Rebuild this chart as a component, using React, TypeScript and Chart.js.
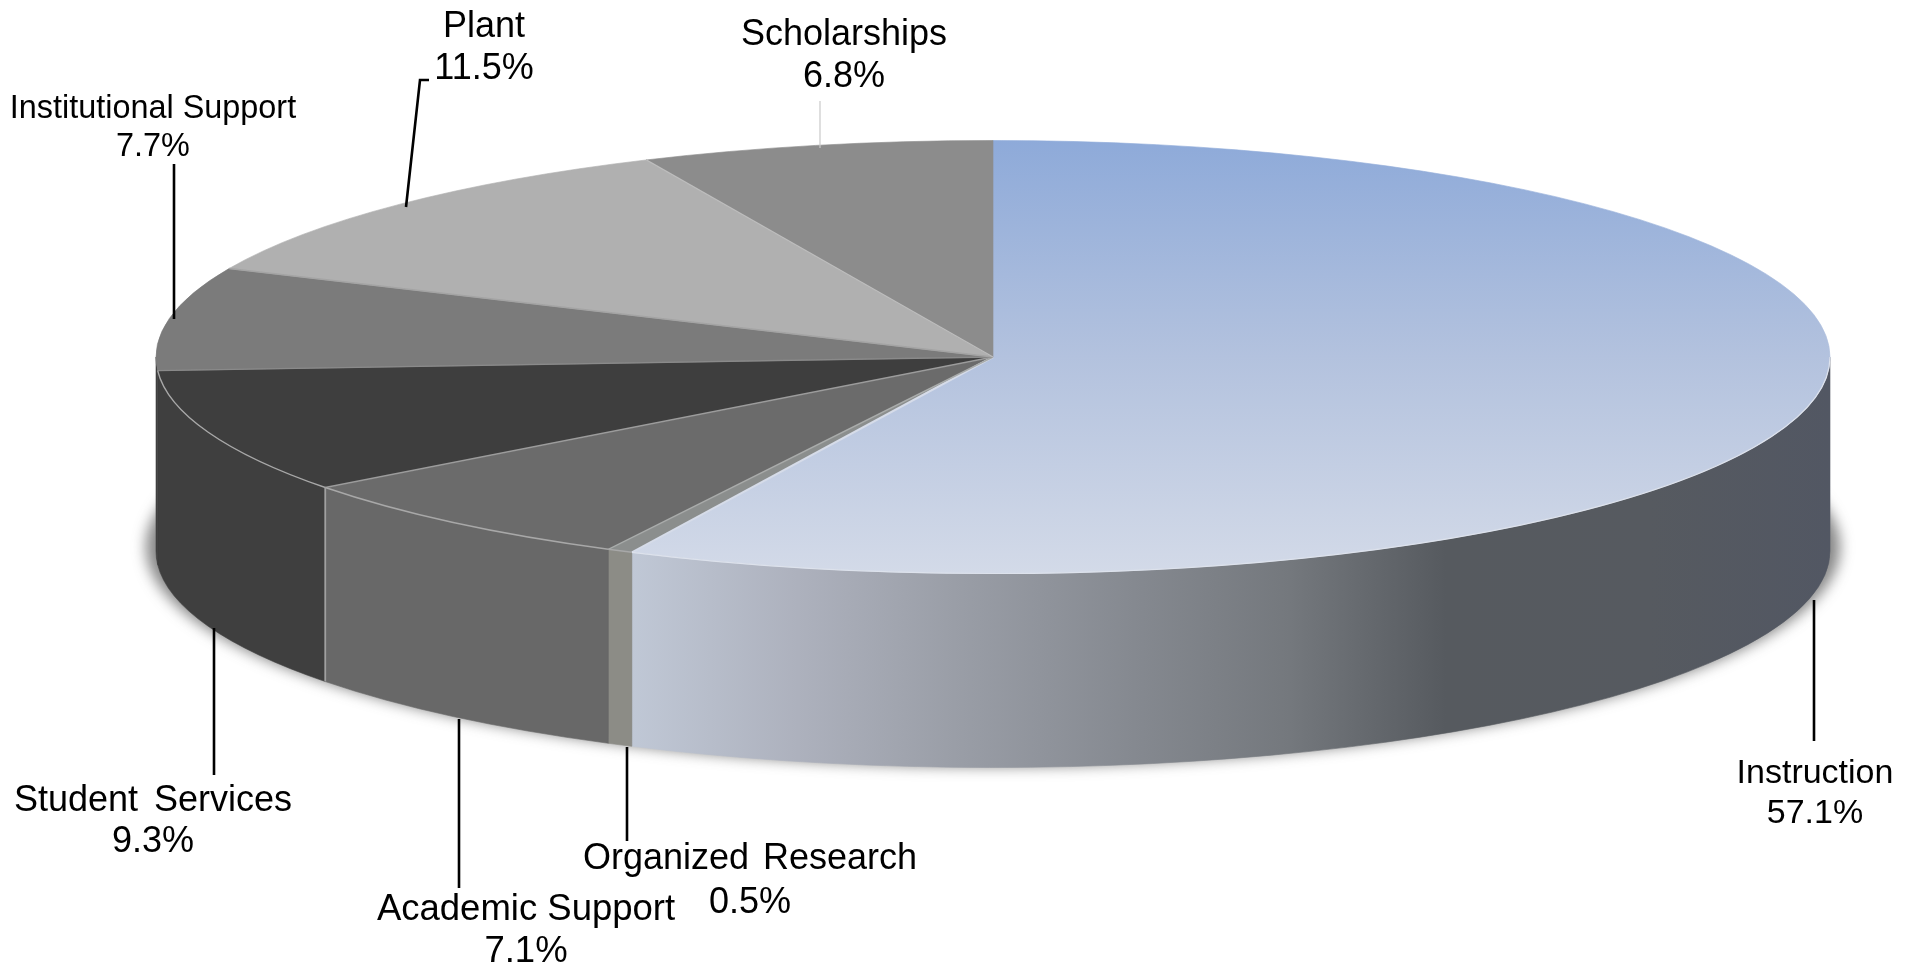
import React, { useEffect, useRef } from "react";
import { Chart, registerables } from "chart.js";

Chart.register(...registerables);

// ---- data ----
const categories = [
  "Instruction",
  "Organized Research",
  "Academic Support",
  "Student Services",
  "Institutional Support",
  "Plant",
  "Scholarships",
];
const shares = [57.1, 0.5, 7.1, 9.3, 7.7, 11.5, 6.8];

// ---- top-face and side-wall colours, by slice ----
const topColors = ["", "#8b8e8d", "#6b6b6b", "#3e3e3e", "#7b7b7b", "#b0b0b0", "#8c8c8c"];
const wallColors = ["", "#8c8c86", "#686868", "#3f3f3f", "#3f3f3f", "#3f3f3f", "#3f3f3f"];
const edgeColors = ["#d6dce9", "#a9acab", "#9c9c9c", "#8a8a8a", "#a4a4a4", "#bdbdbd", ""];
const topGradientStops: [number, string][] = [
  [0, "#8eaad9"],
  [0.5, "#b3c2de"],
  [1, "#d3dae8"],
];
const wallGradientStops: [number, string][] = [
  [0, "#c0c8d6"],
  [0.14, "#adb1bd"],
  [0.27, "#9a9ea7"],
  [0.42, "#858990"],
  [0.55, "#74787d"],
  [0.68, "#565a5f"],
  [0.85, "#565a60"],
  [1, "#525763"],
];

// ---- label layout (text centres and leader lines, in canvas pixels) ----
const labelLayout = [
  { x: 1815, y: 774, py: 814, size: 34, spacing: 0, words: 0 },
  { x: 750, y: 859, py: 903, size: 36, spacing: 0, words: 4 },
  { x: 526, y: 910, py: 952, size: 36.5, spacing: 0, words: 0 },
  { x: 153, y: 801, py: 842, size: 36, spacing: 0, words: 6 },
  { x: 153, y: 109, py: 147, size: 32.4, spacing: 0, words: 0 },
  { x: 484, y: 27, py: 69, size: 36, spacing: 0, words: 0 },
  { x: 844, y: 35, py: 77, size: 36, spacing: 0, words: 0 },
];
const leaderLines: { pts: number[][]; color: string; width: number }[] = [
  { pts: [[1814, 600], [1814, 741]], color: "#000", width: 2.6 },
  { pts: [[627, 747], [627, 841]], color: "#000", width: 2.6 },
  { pts: [[459, 719], [459, 888]], color: "#000", width: 2.6 },
  { pts: [[214, 628], [214, 775]], color: "#000", width: 2.6 },
  { pts: [[174, 164], [174, 319]], color: "#000", width: 2.6 },
  { pts: [[429, 80], [420, 80], [406, 207]], color: "#000", width: 2.6 },
  { pts: [[820, 101], [820, 148]], color: "#c9c9c9", width: 1.2 },
];

// ---- pie geometry ----
const WIDTH = 1919;
const HEIGHT = 964;
const CX = 993;
const CY = 357;
const RX = 837;
const RY = 216.5;
const DEPTH = 194;
const SQUASH = RY / RX;

const pie3d = {
  id: "pie3d",
  beforeDatasetsDraw(chart: any) {
    const ctx: CanvasRenderingContext2D = chart.ctx;
    const arcs = chart.getDatasetMeta(0).data;
    const { x: cx, y: cy, outerRadius: r } = arcs[0];
    const ry = r * SQUASH;

    // soft drop shadow under the disc
    ctx.save();
    ctx.filter = "blur(7px)";
    ctx.fillStyle = "rgba(60,60,60,0.62)";
    ctx.beginPath();
    ctx.ellipse(cx, cy + DEPTH - 4, r + 10, ry + 3, 0, 0, Math.PI * 2);
    ctx.fill();
    ctx.restore();

    // side walls, only the front half of the disc
    const wallGradient = ctx.createLinearGradient(630, 0, 1830, 0);
    wallGradientStops.forEach(([o, c]) => wallGradient.addColorStop(o, c));
    arcs.forEach((arc: any, i: number) => {
      const a = Math.max(arc.startAngle, 0);
      const b = Math.min(arc.endAngle, Math.PI);
      if (b <= a) return;
      ctx.beginPath();
      ctx.ellipse(cx, cy, r, ry, 0, a, b);
      ctx.ellipse(cx, cy + DEPTH, r, ry, 0, b, a, true);
      ctx.closePath();
      ctx.fillStyle = wallColors[i] || wallGradient;
      ctx.fill();
      ctx.strokeStyle = wallColors[i] || wallGradient;
      ctx.lineWidth = 0.6;
      ctx.stroke();
    });

    // top face is squashed into an ellipse
    ctx.save();
    ctx.translate(cx, cy);
    ctx.scale(1, SQUASH);
    ctx.translate(-cx, -cy);
  },
  afterDatasetsDraw(chart: any) {
    const ctx: CanvasRenderingContext2D = chart.ctx;
    ctx.restore();
    const arcs = chart.getDatasetMeta(0).data;
    const { x: cx, y: cy, outerRadius: r } = arcs[0];
    const ry = r * SQUASH;

    // pale edges between slices
    arcs.forEach((arc: any, i: number) => {
      if (!edgeColors[i]) return;
      const end = arc.endAngle;
      ctx.beginPath();
      ctx.moveTo(cx, cy);
      ctx.lineTo(cx + r * Math.cos(end), cy + ry * Math.sin(end));
      ctx.strokeStyle = edgeColors[i];
      ctx.lineWidth = i === 0 ? 2 : 1.4;
      ctx.stroke();
    });

    // pale rim along the front of the disc
    arcs.forEach((arc: any, i: number) => {
      const a = Math.max(arc.startAngle, 0);
      const b = Math.min(arc.endAngle, Math.PI);
      if (b <= a || i > 3) return;
      ctx.beginPath();
      ctx.ellipse(cx, cy, r, ry, 0, a, b);
      ctx.strokeStyle = i === 0 ? "#dde2ec" : "#a8a8a8";
      ctx.lineWidth = i === 0 ? 1.2 : 1.4;
      ctx.stroke();
    });

    // pale line down the wall between Academic Support and Student Services
    const seam = arcs[2].endAngle;
    const sx = cx + r * Math.cos(seam);
    const sy = cy + ry * Math.sin(seam);
    ctx.beginPath();
    ctx.moveTo(sx, sy);
    ctx.lineTo(sx, sy + DEPTH);
    ctx.strokeStyle = "#a0a0a0";
    ctx.lineWidth = 1.8;
    ctx.stroke();

    // leader lines
    leaderLines.forEach((l) => {
      ctx.beginPath();
      l.pts.forEach(([x, y], k) => (k ? ctx.lineTo(x, y) : ctx.moveTo(x, y)));
      ctx.strokeStyle = l.color;
      ctx.lineWidth = l.width;
      ctx.stroke();
    });

    // labels
    ctx.fillStyle = "#000";
    ctx.textAlign = "center";
    ctx.textBaseline = "middle";
    categories.forEach((name, i) => {
      const l = labelLayout[i];
      ctx.font = `${l.size}px "Liberation Sans", Arial, sans-serif`;
      (ctx as any).letterSpacing = `${l.spacing}px`;
      (ctx as any).wordSpacing = `${l.words}px`;
      ctx.fillText(name, l.x, l.y);
      (ctx as any).letterSpacing = "0px";
      (ctx as any).wordSpacing = "0px";
      ctx.fillText(`${shares[i].toFixed(1)}%`, l.x, l.py);
    });
  },
};

export default function App() {
  const ref = useRef<HTMLCanvasElement | null>(null);
  useEffect(() => {
    const canvas = ref.current!;
    const ctx = canvas.getContext("2d")!;
    const gradient = ctx.createLinearGradient(0, CY - RX, 0, CY + RX);
    topGradientStops.forEach(([o, c]) => gradient.addColorStop(o, c));
    const fills = topColors.map((c) => c || gradient);
    const chart = new Chart(canvas, {
      type: "pie",
      data: {
        labels: categories,
        datasets: [
          {
            data: shares,
            backgroundColor: fills as any,
            borderColor: fills as any,
            borderWidth: 1,
            clip: false as any,
          },
        ],
      },
      options: {
        responsive: false,
        animation: false,
        devicePixelRatio: 1,
        radius: RX,
        events: [],
        layout: {
          padding: {
            left: 2 * CX - WIDTH,
            right: 0,
            top: 0,
            bottom: HEIGHT - 2 * CY,
          },
        },
        plugins: { legend: { display: false }, tooltip: { enabled: false }, title: { display: false } },
      } as any,
      plugins: [pie3d],
    });
    return () => chart.destroy();
  }, []);
  return (
    <div style={{ position: "fixed", inset: 0, background: "#fff", overflow: "hidden" }}>
      <canvas ref={ref} width={WIDTH} height={HEIGHT} style={{ display: "block" }} />
    </div>
  );
}
